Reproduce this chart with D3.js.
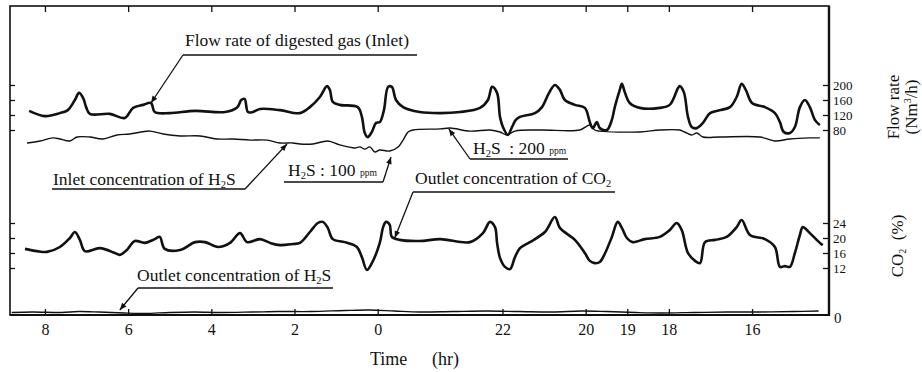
<!DOCTYPE html>
<html>
<head>
<meta charset="utf-8">
<script src="https://cdn.jsdelivr.net/npm/d3@7"></script>
<style>
  body { margin: 0; background: #fff; }
  svg text { font-family: "Liberation Serif", "Times New Roman", serif; fill: #111; }
</style>
</head>
<body>
<div id="chart"></div>
<script>
// ---------------- data ----------------
// time axis runs right to left; x values are hours counted from the "8" tick
var timeTickLabels = ["8", "6", "4", "2", "0", "22", "20", "19", "18", "16"];
var timeTickHours = [0, 2, 4, 6, 8, 11, 13, 14, 15, 17];
var flowTicks = [80, 120, 160, 200];
var co2Ticks = [12, 16, 20, 24];

// flow rate of digested gas, inlet (Nm3/h)
var flowRate = [
  [-0.38, 131], [0, 117], [0.36, 125], [0.55, 133], [0.72, 160], [0.82, 179], [0.92, 165], [0.99, 141],
  [1.08, 123], [1.56, 123], [1.92, 112], [2.12, 139], [2.36, 147], [2.55, 152], [2.64, 128], [3.00, 125],
  [3.61, 131], [4.33, 128], [4.62, 140], [4.72, 160], [4.80, 163], [4.88, 128], [5.00, 128], [5.17, 136],
  [5.65, 133], [6.13, 125], [6.37, 141], [6.61, 168], [6.78, 197], [6.85, 187], [6.92, 155], [7.09, 147],
  [7.52, 141], [7.62, 115], [7.69, 72], [7.76, 61], [7.86, 75], [7.96, 99], [8.05, 101], [8.15, 133],
  [8.25, 195], [8.34, 195], [8.44, 160], [8.61, 141], [9.01, 128], [9.50, 125], [9.98, 128], [10.46, 139],
  [10.65, 160], [10.75, 195], [10.87, 179], [10.94, 115], [11.01, 88], [11.13, 67], [11.23, 88], [11.32, 107],
  [11.42, 115], [11.78, 125], [11.95, 141], [12.12, 179], [12.26, 200], [12.38, 187], [12.50, 160], [12.74, 147],
  [12.98, 139], [13.10, 101], [13.17, 85], [13.27, 101], [13.34, 85], [13.51, 80], [13.63, 107], [13.70, 141],
  [13.82, 187], [13.87, 203], [13.94, 181], [14.06, 152], [14.30, 139], [14.78, 139], [15.02, 147], [15.22, 192],
  [15.26, 197], [15.36, 181], [15.46, 115], [15.55, 88], [15.67, 85], [15.82, 99], [15.99, 125], [16.23, 133],
  [16.47, 141], [16.63, 168], [16.75, 203], [16.85, 187], [17.00, 152], [17.31, 141], [17.55, 125], [17.67, 101],
  [17.76, 75], [17.91, 72], [18.03, 88], [18.15, 141], [18.27, 160], [18.39, 141], [18.51, 107], [18.63, 93]
];

// inlet concentration of H2S (ppm)
var inletH2S = [
  [-0.43, 128], [-0.12, 139], [0.19, 156], [0.36, 150], [0.60, 139], [0.77, 161], [1.08, 161], [1.39, 150],
  [1.73, 172], [2.04, 178], [2.52, 194], [2.84, 178], [3.25, 167], [3.73, 167], [4.13, 150], [4.52, 150],
  [4.93, 144], [5.34, 144], [5.65, 128], [5.96, 128], [6.13, 122], [6.44, 122], [6.80, 139], [7.09, 117],
  [7.45, 100], [7.57, 106], [7.69, 94], [7.81, 106], [7.93, 78], [8.05, 89], [8.29, 83], [8.49, 106],
  [8.61, 144], [8.73, 189], [8.85, 200], [9.50, 206], [9.74, 211], [10.22, 194], [10.70, 200], [10.94, 189],
  [11.11, 172], [11.30, 194], [11.90, 200], [12.86, 200], [13.03, 222], [13.10, 228], [13.22, 200], [13.34, 194],
  [14.30, 189], [14.78, 200], [15.26, 200], [15.38, 189], [15.55, 172], [15.67, 183], [15.82, 161], [16.23, 161],
  [17.19, 161], [17.55, 139], [17.91, 150], [18.39, 156], [18.63, 156]
];

// outlet concentration of CO2 (%)
var outletCO2 = [
  [-0.48, 17.1], [-0.19, 16.5], [0.05, 16.3], [0.36, 17.6], [0.60, 20.0], [0.72, 21.6], [0.84, 19.5], [0.96, 16.5],
  [1.32, 17.3], [1.68, 16.0], [1.80, 15.5], [1.97, 16.8], [2.16, 19.2], [2.40, 18.7], [2.64, 19.7], [2.76, 20.3],
  [2.88, 17.1], [3.25, 16.8], [3.61, 18.9], [3.85, 18.9], [4.16, 17.6], [4.45, 18.7], [4.69, 21.3], [4.86, 18.9],
  [5.17, 19.7], [5.41, 18.7], [5.65, 18.1], [5.96, 18.4], [6.13, 18.7], [6.37, 21.6], [6.56, 24.0], [6.68, 24.3],
  [6.80, 22.7], [6.92, 19.7], [7.21, 18.9], [7.50, 17.6], [7.62, 14.9], [7.74, 11.5], [7.86, 13.3], [8.05, 18.7],
  [8.13, 22.9], [8.20, 24.3], [8.29, 23.5], [8.34, 20.3], [8.53, 19.5], [9.01, 19.2], [9.50, 19.7], [10.22, 18.9],
  [10.53, 21.3], [10.70, 24.3], [10.82, 22.9], [10.87, 18.7], [10.94, 14.7], [11.06, 12.3], [11.18, 11.7], [11.30, 14.9],
  [11.42, 17.3], [11.66, 18.9], [12.02, 21.6], [12.26, 25.6], [12.38, 22.7], [12.74, 19.5], [12.98, 16.0], [13.10, 13.9],
  [13.22, 13.3], [13.34, 13.6], [13.46, 15.8], [13.63, 20.3], [13.77, 24.3], [13.87, 22.7], [13.99, 20.0], [14.13, 18.9],
  [14.42, 19.7], [14.78, 20.3], [15.02, 22.1], [15.19, 24.0], [15.31, 22.1], [15.46, 16.0], [15.63, 13.9], [15.75, 13.3],
  [15.87, 18.9], [16.11, 19.5], [16.39, 20.3], [16.63, 22.9], [16.75, 24.8], [16.95, 20.8], [17.31, 19.7], [17.55, 17.6],
  [17.67, 12.3], [17.79, 12.5], [17.91, 12.3], [18.03, 16.0], [18.15, 20.8], [18.22, 22.9], [18.39, 21.3], [18.63, 18.7],
  [18.70, 18.1]
];

// outlet concentration of H2S (ppm, close to zero)
var outletH2S = [
  [-0.8, 2.5], [-0.3, 3], [0.4, 2.5], [0.8, 3.5], [1.3, 3], [1.9, 2], [2.4, 1.5], [3, 2.5], [3.6, 3], [4.2, 2.5],
  [5, 3], [5.6, 3.5], [6.4, 3.5], [7.2, 4.5], [7.8, 5], [8.4, 4], [9, 3], [9.8, 3.5], [10.6, 4], [11.4, 3.5],
  [12.2, 3], [12.9, 4], [13.5, 3.5], [14.2, 2.5], [14.8, 2], [15.6, 2.5], [16.4, 3], [17.2, 3], [18, 3.5], [18.6, 4]
];

// ---------------- layout ----------------
var W = 922, H = 372;
var frame = { left: 10, top: 6, right: 829, bottom: 315 };

var svg = d3.select("#chart").append("svg")
  .attr("width", W)
  .attr("height", H);

// arrow head for the leader lines
svg.append("defs").append("marker")
  .attr("id", "arrow")
  .attr("viewBox", "0 0 10 10")
  .attr("refX", 10).attr("refY", 5)
  .attr("markerWidth", 9).attr("markerHeight", 7)
  .attr("markerUnits", "userSpaceOnUse")
  .attr("orient", "auto")
  .append("path")
  .attr("d", "M0,1L10,5L0,9z")
  .attr("fill", "#111");

// scales
var x = d3.scaleLinear().domain([-0.84, 18.85]).range([frame.left, frame.right]);
var yFlow = d3.scaleLinear().domain([80, 200]).range([130, 85]);
var yCO2 = d3.scaleLinear().domain([12, 24]).range([268, 223]);
var yH2Sin = d3.scaleLinear().domain([100, 200]).range([148, 130]);
var yH2Sout = d3.scaleLinear().domain([0, 10]).range([frame.bottom, frame.bottom - 10]);

// frame
svg.append("rect")
  .attr("x", frame.left).attr("y", frame.top)
  .attr("width", frame.right - frame.left)
  .attr("height", frame.bottom - frame.top)
  .attr("fill", "none").attr("stroke", "#111").attr("stroke-width", 1.6);
svg.append("line")
  .attr("x1", frame.right).attr("x2", frame.right)
  .attr("y1", frame.top).attr("y2", frame.bottom + 1)
  .attr("stroke", "#111").attr("stroke-width", 2.4);
svg.append("line")
  .attr("x1", frame.left).attr("x2", frame.right)
  .attr("y1", frame.bottom).attr("y2", frame.bottom)
  .attr("stroke", "#111").attr("stroke-width", 2.2);

// axes
function clean(g) {
  g.select(".domain").remove();
  g.selectAll("line").attr("stroke", "#111").attr("stroke-width", 1.3);
}

svg.append("g")
  .attr("transform", "translate(0," + frame.bottom + ")")
  .call(d3.axisBottom(x).tickValues(timeTickHours)
    .tickFormat(function(d, i) { return timeTickLabels[i]; })
    .tickSizeInner(-6).tickSizeOuter(0).tickPadding(9))
  .call(clean)
  .selectAll("text")
  .attr("font-size", 16);

svg.append("g")
  .attr("transform", "translate(0," + frame.top + ")")
  .call(d3.axisTop(x).tickValues(timeTickHours).tickFormat("")
    .tickSizeInner(-6).tickSizeOuter(0))
  .call(clean);

[yFlow, yCO2].forEach(function(s, k) {
  var tv = k === 0 ? flowTicks : co2Ticks;
  svg.append("g")
    .attr("transform", "translate(" + frame.right + ",0)")
    .call(d3.axisRight(s).tickValues(tv).tickSizeInner(-6).tickSizeOuter(0).tickPadding(4))
    .call(clean)
    .selectAll("text")
    .attr("font-size", 13);
  svg.append("g")
    .attr("transform", "translate(" + frame.left + ",0)")
    .call(d3.axisLeft(s).tickValues(tv).tickFormat("").tickSizeInner(-5).tickSizeOuter(0))
    .call(clean);
});

svg.append("text")
  .attr("x", frame.right + 5).attr("y", frame.bottom + 8)
  .attr("font-size", 15)
  .text("0");

// curves
var smooth = d3.curveCatmullRom.alpha(0.5);
function drawSeries(data, yScale, width) {
  svg.append("path")
    .datum(data)
    .attr("fill", "none")
    .attr("stroke", "#111")
    .attr("stroke-width", width)
    .attr("stroke-linejoin", "round")
    .attr("d", d3.line().x(function(d) { return x(d[0]); })
      .y(function(d) { return yScale(d[1]); }).curve(smooth));
}
drawSeries(flowRate, yFlow, 2.6);
drawSeries(inletH2S, yH2Sin, 1.4);
drawSeries(outletCO2, yCO2, 2.6);
drawSeries(outletH2S, yH2Sout, 1.3);

// annotations: label, underline, leader with arrow to the curve
var notes = [
  { parts: [["Flow rate of digested gas (Inlet)"]], tx: 185, ty: 46, ul: [183, 417, 55], from: [183, 55],
    tip: [2.55, 152, yFlow, 0] },
  { parts: [["Inlet concentration of H"], ["2", "sub"], ["S"]], tx: 53, ty: 185, ul: [52, 245, 189], from: [245, 189],
    tip: [5.82, 122, yH2Sin, 0] },
  { parts: [["H"], ["2", "sub"], ["S : 100 "], ["ppm", "small"]], tx: 288, ty: 176, ul: [284, 383, 182], from: [383, 182],
    tip: [8.32, 83, yH2Sin, 6] },
  { parts: [["H"], ["2", "sub"], ["S  : 200 "], ["ppm", "small"]], tx: 473, ty: 154, ul: [470, 568, 159], from: [470, 159],
    tip: [9.71, 206, yH2Sin, 0] },
  { parts: [["Outlet concentration of CO"], ["2", "sub"]], tx: 415, ty: 184, ul: [413, 615, 192], from: [413, 192],
    tip: [8.41, 20, yCO2, 0] },
  { parts: [["Outlet concentration of H"], ["2", "sub"], ["S"]], tx: 137, ty: 281, ul: [138, 333, 288], from: [138, 288],
    tip: [1.80, 5, yH2Sout, 0] }
];

function writeParts(t, parts, size) {
  var lowered = false;
  parts.forEach(function(p) {
    var ts = t.append("tspan").text(p[0]);
    if (p[1] === "sub") {
      ts.attr("font-size", size * 0.6).attr("dy", 3);
      lowered = true;
    } else {
      if (p[1] === "small") ts.attr("font-size", size * 0.55);
      if (lowered) { ts.attr("dy", -3); lowered = false; }
    }
  });
}

notes.forEach(function(n) {
  var t = svg.append("text")
    .attr("x", n.tx).attr("y", n.ty)
    .attr("font-size", 17.5)
    .attr("xml:space", "preserve");
  writeParts(t, n.parts, 17.5);

  svg.append("line")
    .attr("x1", n.ul[0]).attr("x2", n.ul[1])
    .attr("y1", n.ul[2]).attr("y2", n.ul[2])
    .attr("stroke", "#111").attr("stroke-width", 1.3);

  svg.append("line")
    .attr("x1", n.from[0]).attr("y1", n.from[1])
    .attr("x2", x(n.tip[0])).attr("y2", n.tip[2](n.tip[1]) + n.tip[3])
    .attr("stroke", "#111").attr("stroke-width", 1.3)
    .attr("marker-end", "url(#arrow)");
});

// axis titles on the right
svg.append("text")
  .attr("transform", "translate(893,107) rotate(-90)")
  .attr("text-anchor", "middle").attr("dy", "0.35em")
  .attr("font-size", 17)
  .text("Flow rate");
var nm = svg.append("text")
  .attr("transform", "translate(911,107) rotate(-90)")
  .attr("text-anchor", "middle").attr("dy", "0.35em")
  .attr("font-size", 17);
nm.append("tspan").text("(Nm");
nm.append("tspan").text("3").attr("font-size", 10).attr("dy", -6);
nm.append("tspan").text("/h)").attr("dy", 6);

var co2t = svg.append("text")
  .attr("transform", "translate(897,246) rotate(-90)")
  .attr("text-anchor", "middle").attr("dy", "0.35em")
  .attr("font-size", 17)
  .attr("xml:space", "preserve");
co2t.append("tspan").text("CO");
co2t.append("tspan").text("2").attr("font-size", 10).attr("dy", 3);
co2t.append("tspan").text("  (%)").attr("dy", -3);

var tt = svg.append("text")
  .attr("x", 370).attr("y", 365)
  .attr("font-size", 18);
tt.append("tspan").text("Time");
tt.append("tspan").attr("x", 432).text("(hr)");
</script>
</body>
</html>
